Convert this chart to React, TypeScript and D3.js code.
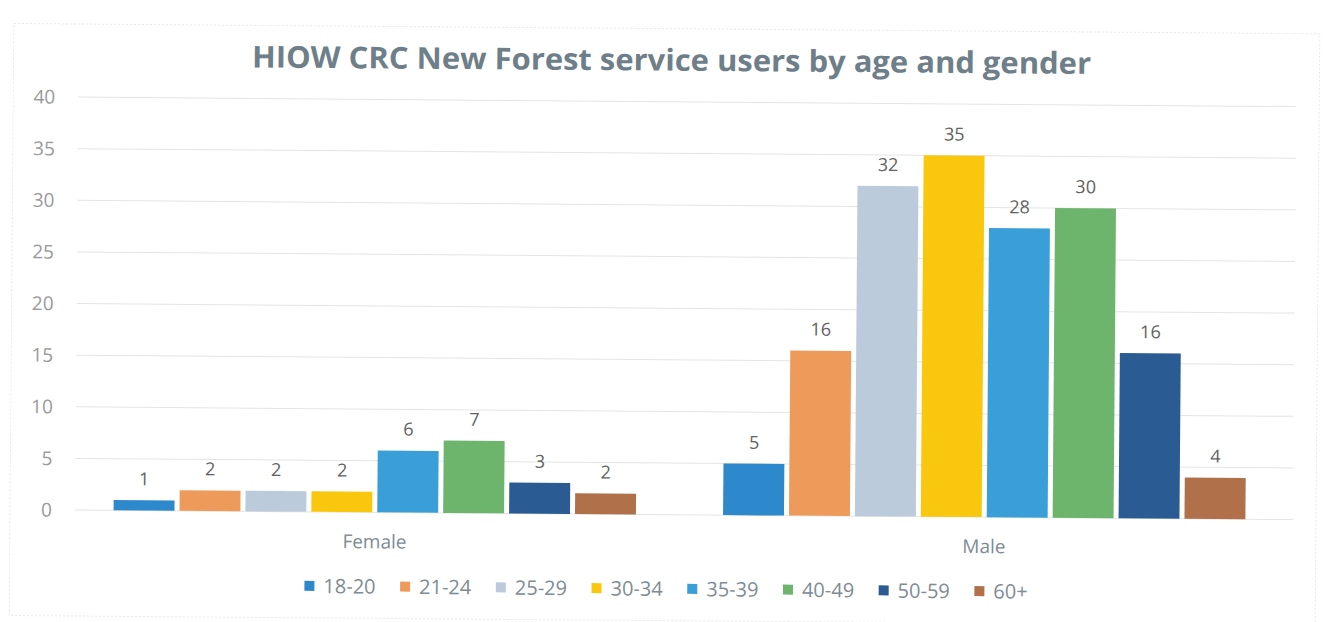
import React from "react";
import * as d3 from "d3";

const categories = ["Female", "Male"];
const series = ["18-20", "21-24", "25-29", "30-34", "35-39", "40-49", "50-59", "60+"];
const femaleValues = [1, 2, 2, 2, 6, 7, 3, 2];
const maleValues = [5, 16, 32, 35, 28, 30, 16, 4];
const seriesColors = ["#2e88cc", "#ee9a5a", "#bccbdb", "#f9c80e", "#3a9ed8", "#6db46c", "#2a5c93", "#b0704a"];
const yTicks = [0, 5, 10, 15, 20, 25, 30, 35, 40];
const title = "HIOW CRC New Forest service users by age and gender";

const W = 1326;
const H = 622;
const FONT = "'Open Sans', 'Liberation Sans', sans-serif";

export default function App() {
  const valuesByCat = [femaleValues, maleValues];
  const plotLeft = 75;
  const plotRight = 1293;
  const y = d3.scaleLinear().domain([0, 40]).range([510, 97]);
  const x0 = d3.scaleBand<string>().domain(categories).range([70, 1289]).paddingInner(0.143).paddingOuter(0.0715);
  const x1 = d3.scaleBand<string>().domain(series).range([0, x0.bandwidth()]).paddingInner(0.076).paddingOuter(0);
  const color = d3.scaleOrdinal<string, string>().domain(series).range(seriesColors);
  const legendX = d3.scalePoint<string>().domain(series).range([305, 975]);

  return (
    <svg width={W} height={H} style={{ position: "absolute", left: 0, top: 0, background: "#fff" }}>
      <g transform="rotate(0.45, 75, 510)">
        <rect x={10} y={24} width={1306} height={592} fill="none" stroke="#e8e8e8" strokeWidth={1} strokeDasharray="2,2" />
        <text
          x={668}
          y={66}
          textAnchor="middle"
          fontFamily={FONT}
          fontWeight={700}
          fontSize={30}
          fill="#6e7f8a"
          textLength={839}
          lengthAdjust="spacingAndGlyphs"
        >
          {title}
        </text>
        {yTicks.map((t) => (
          <g key={t}>
            <line x1={plotLeft} x2={plotRight} y1={y(t)} y2={y(t)} stroke="#e4e4e4" strokeWidth={1} />
            <text x={52} y={y(t)} dy="0.36em" textAnchor="end" fontFamily={FONT} fontSize={19} fill="#9a9a9a">
              {t}
            </text>
          </g>
        ))}
        {categories.map((c, ci) => (
          <g key={c} transform={`translate(${x0(c)},0)`}>
            {series.map((s, si) => {
              const v = valuesByCat[ci][si];
              const bx = x1(s) as number;
              return (
                <g key={s}>
                  <rect x={bx} y={y(v)} width={x1.bandwidth()} height={y(0) - y(v)} fill={color(s)} />
                  <text
                    x={bx + x1.bandwidth() / 2}
                    y={y(v) - 15}
                    textAnchor="middle"
                    fontFamily={FONT}
                    fontSize={18}
                    fill="#626262"
                  >
                    {v}
                  </text>
                </g>
              );
            })}
            <text
              x={x0.bandwidth() / 2}
              y={546}
              textAnchor="middle"
              fontFamily={FONT}
              fontSize={19}
              fill="#7d8b94"
            >
              {c}
            </text>
          </g>
        ))}
        {series.map((s) => (
          <g key={s} transform={`translate(${legendX(s)},${584})`}>
            <rect x={0} y={-5} width={10} height={10} fill={color(s)} />
            <text x={19} y={0} dy="0.36em" fontFamily={FONT} fontSize={20} fill="#808b93">
              {s}
            </text>
          </g>
        ))}
      </g>
    </svg>
  );
}
